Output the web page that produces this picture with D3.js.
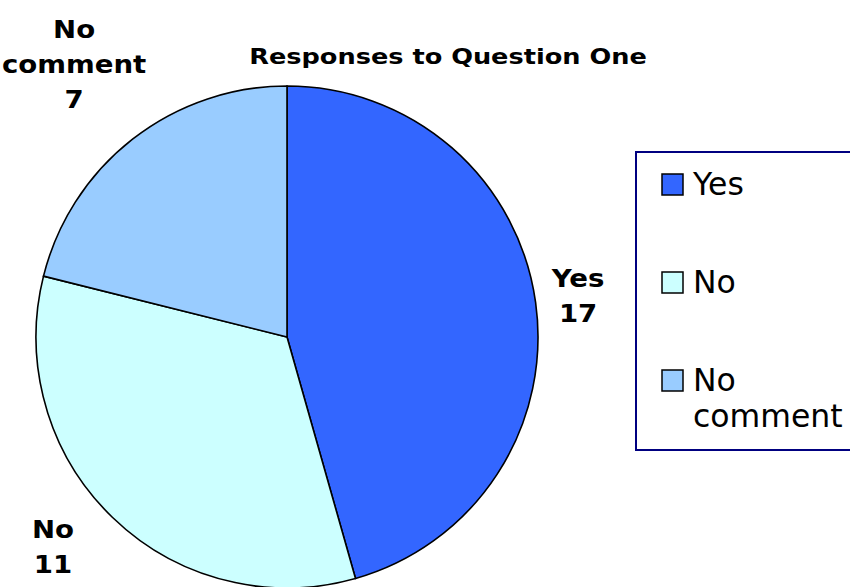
<!DOCTYPE html>
<html lang="en">
<head>
<meta charset="UTF-8" />
<title>Responses to Question One</title>
<style>
  body {
    margin: 0;
    overflow: hidden;
    background-color: #fff;
    font-family: "DejaVu Sans", Verdana, sans-serif;
  }
  svg {
    display: block;
  }
  .slice {
    stroke: #000;
    stroke-width: 1.6px;
  }
  .title {
    font-size: 21px;
    font-weight: bold;
  }
  .data-label {
    font-size: 24px;
    font-weight: bold;
  }
  .legend-text {
    font-size: 31.5px;
  }
</style>
</head>
<body>

<svg></svg>

<script src="https://d3js.org/d3.v7.min.js"></script>
<script>
// Categories and the numbers printed beside each slice
const categories = ["Yes", "No", "No comment"];
const counts = [17, 11, 7];
// Share of the circle each slice takes up (percent)
const shares = [45.6, 33.3, 21.1];
const colors = ["#3366FF", "#CCFFFF", "#99CCFF"];

const width = 850;
const height = 587;

const svg = d3.select("svg")
  .attr("width", width)
  .attr("height", height);

const cx = 287, cy = 337, radius = 251;
// the original used a wide bold face, so stretch DejaVu a bit
const wide = 1.22;

// Title
svg.append("text")
  .attr("class", "title")
  .attr("transform", `translate(448,64) scale(${wide},1)`)
  .attr("text-anchor", "middle")
  .text("Responses to Question One");

const data = categories.map((c, i) => ({ name: c, count: counts[i], share: shares[i], color: colors[i] }));

const pie = d3.pie()
  .sort(null)
  .value(d => d.share);

const arc = d3.arc()
  .innerRadius(0)
  .outerRadius(radius);

const arcs = pie(data);

const g = svg.append("g")
  .attr("transform", `translate(${cx},${cy})`);

g.selectAll("path")
  .data(arcs)
  .join("path")
  .attr("class", "slice")
  .attr("fill", d => d.data.color)
  .attr("d", arc);

// Data labels outside the pie, pushed out so the text block clears the edge
const lineH = 35;
const labels = g.selectAll("g.label")
  .data(arcs)
  .join("g")
  .attr("class", "label");

labels.each(function(d) {
  const el = d3.select(this);
  const lines = d.data.name.split(" ").concat([String(d.data.count)]);
  const t = el.append("text")
    .attr("class", "data-label")
    .attr("text-anchor", "middle")
    .attr("transform", `scale(1.15,1)`);
  lines.forEach((ln, i) => {
    t.append("tspan")
      .attr("x", 0)
      .attr("y", (i - (lines.length - 1) / 2) * lineH)
      .attr("dy", "0.35em")
      .text(ln);
  });
  const bb = t.node().getBBox();
  const w = bb.width * 1.15, h = bb.height;
  const mid = (d.startAngle + d.endAngle) / 2;
  const s = Math.sin(mid), c = Math.cos(mid);
  const ext = Math.abs(s) * w / 2 + Math.abs(c) * h / 2;
  const r = radius + 12 + ext;
  // lower-half labels sit further out to the side and a little higher
  const low = Math.max(0, -c);
  const x = s * r + Math.sign(s) * low * 35;
  const y = -c * r - low * 8;
  el.attr("transform", `translate(${x},${y})`);
});

// Legend
const legend = svg.append("g")
  .attr("transform", "translate(636,152)");

legend.append("rect")
  .attr("x", 0)
  .attr("y", 0)
  .attr("width", 240)
  .attr("height", 298)
  .attr("fill", "none")
  .attr("stroke", "#000080")
  .attr("stroke-width", 2);

const rowY = d3.scalePoint()
  .domain(categories)
  .range([32, 228]);

const item = legend.selectAll("g.item")
  .data(data)
  .join("g")
  .attr("class", "item")
  .attr("transform", d => `translate(26,${rowY(d.name)})`);

item.append("rect")
  .attr("x", 0)
  .attr("y", -10)
  .attr("width", 21)
  .attr("height", 21)
  .attr("fill", d => d.color)
  .attr("stroke", "#000")
  .attr("stroke-width", 1.5);

item.each(function(d) {
  const words = d.name.split(" ");
  const t = d3.select(this).append("text")
    .attr("class", "legend-text");
  words.forEach((w, i) => {
    t.append("tspan")
      .attr("x", 31)
      .attr("y", i * 36)
      .attr("dy", "0.36em")
      .text(w);
  });
});
</script>

</body>
</html>
